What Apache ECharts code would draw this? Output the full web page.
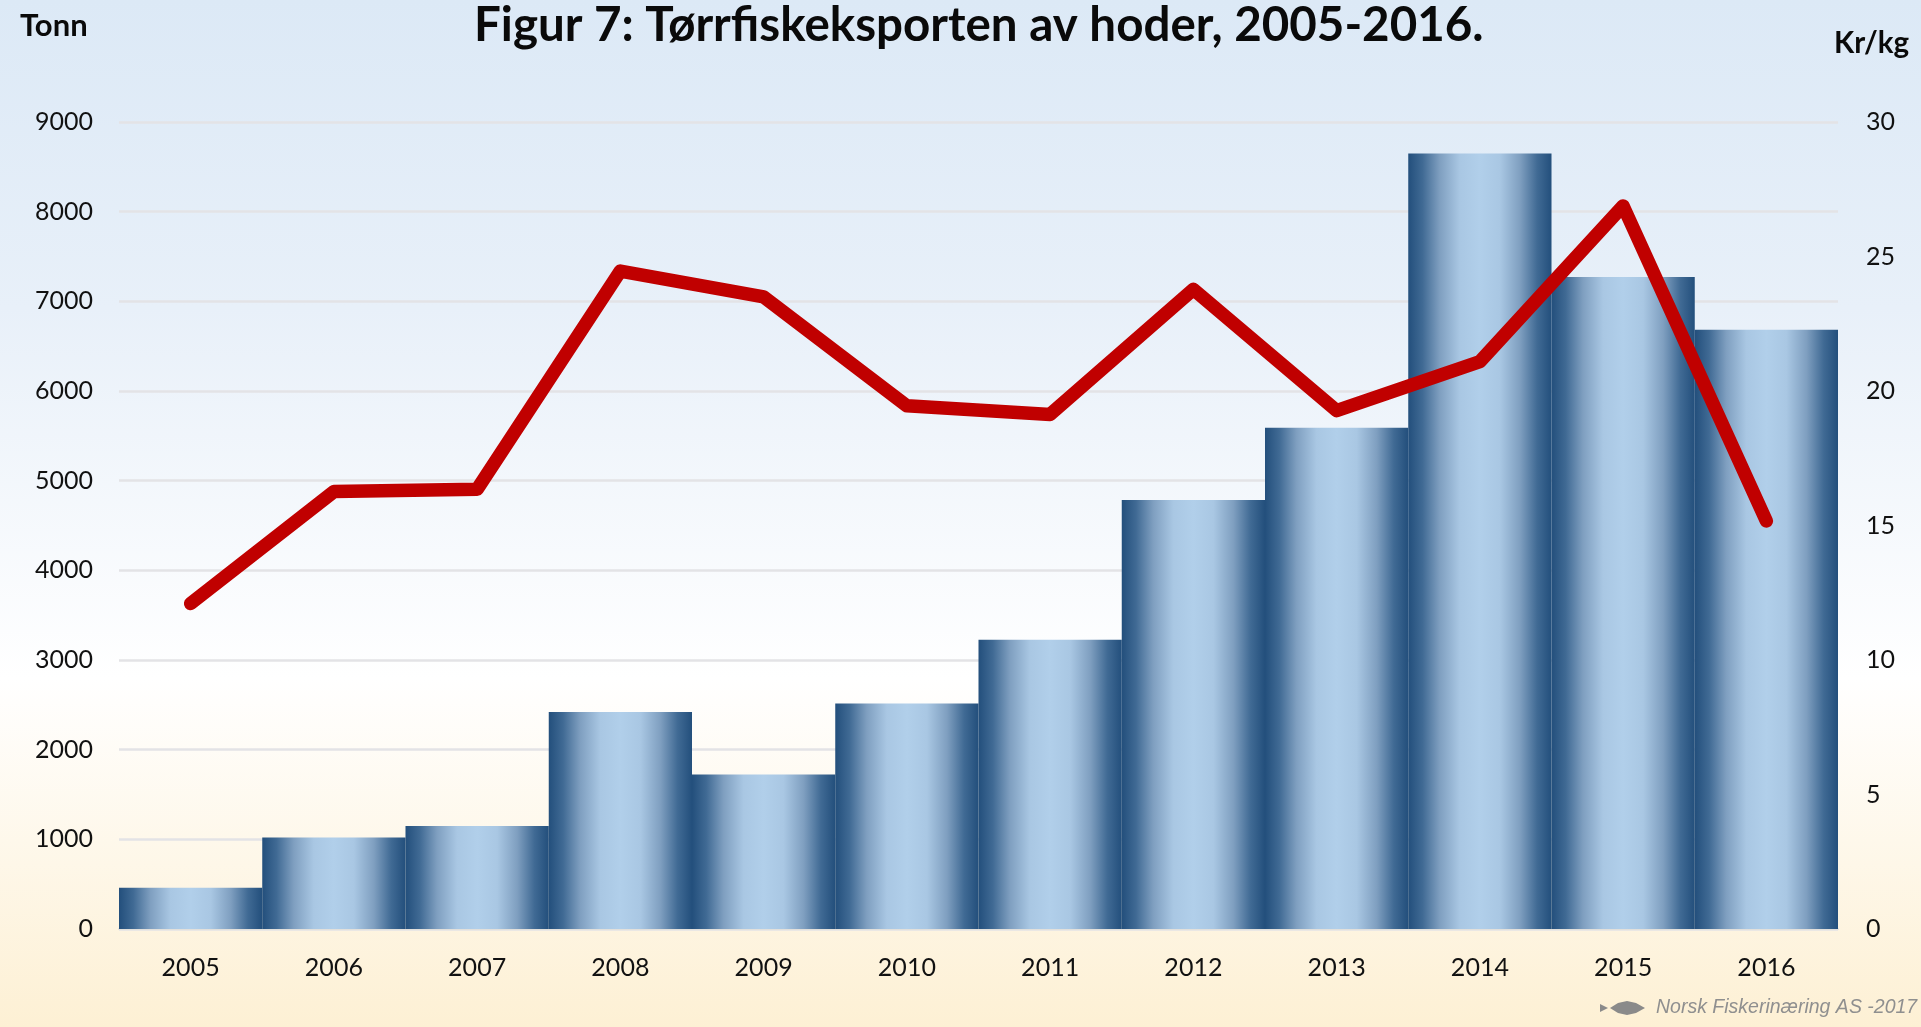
<!DOCTYPE html>
<html><head><meta charset="utf-8">
<style>html,body{margin:0;padding:0;width:100%;height:100%;overflow:hidden}#c{width:1921px;height:1027px}</style>
<script src="https://cdn.jsdelivr.net/npm/echarts@6/dist/echarts.min.js"></script>
</head><body><div id="c"></div>
<script>
const years = ['2005','2006','2007','2008','2009','2010','2011','2012','2013','2014','2015','2016'];
const tonnes = [460,1020,1150,2420,1722,2515,3225,4783,5590,8650,7272,6683];
const krPerKg = [12.1,16.26,16.35,24.46,23.5,19.45,19.13,23.78,19.27,21.09,26.88,15.17];
const titleText = 'Figur 7: Tørrfiskeksporten av hoder, 2005-2016.';
const leftUnit = 'Tonn';
const rightUnit = 'Kr/kg';
const credit = 'Norsk Fiskerinæring AS -2017';

const chart = echarts.init(document.getElementById('c'), null, {renderer:'canvas'});
const font = 'Lato, Carlito, sans-serif';
const barFill = {type:'linear',x:0,y:0,x2:1,y2:0,colorStops:[
  {offset:0,color:'#234f7c'},{offset:0.1,color:'#406a94'},{offset:0.22,color:'#7f9fc0'},{offset:0.36,color:'#a9c7e3'},
  {offset:0.5,color:'#b1cfea'},{offset:0.64,color:'#a9c7e3'},{offset:0.78,color:'#7f9fc0'},{offset:0.9,color:'#406a94'},{offset:1,color:'#234f7c'}]};
chart.setOption({
  animation:false,
  backgroundColor:{type:'linear',x:0,y:0,x2:0,y2:1,colorStops:[
    {offset:0,color:'#dce9f6'},{offset:0.3,color:'#e8f0f9'},{offset:0.66,color:'#ffffff'},{offset:1,color:'#fdf0d4'}]},
  title:[
    {text:titleText,left:469,top:-3,textStyle:{fontFamily:font,fontSize:47.5,fontWeight:'bold',color:'#0a0a0a'}},
    {text:leftUnit,left:15,top:5,textStyle:{fontFamily:font,fontSize:31,fontWeight:'bold',color:'#0a0a0a'}},
    {text:rightUnit,left:1829,top:23,textStyle:{fontFamily:font,fontSize:29.5,fontWeight:'bold',color:'#0a0a0a'}}
  ],
  grid:{left:119,right:83,top:122,bottom:98,containLabel:false},
  xAxis:{type:'category',data:years,boundaryGap:true,
    axisTick:{show:false},axisLine:{lineStyle:{color:'#e2e0dc',width:2}},
    axisLabel:{fontFamily:font,fontSize:25,color:'#111',margin:26}},
  yAxis:[
    {type:'value',min:0,max:9000,interval:1000,
     axisLine:{show:false},axisTick:{show:false},
     splitLine:{lineStyle:{color:'#e3e3e6',width:2.5}},
     axisLabel:{fontFamily:font,fontSize:25,color:'#111',margin:26,formatter:v=>String(v)}},
    {type:'value',min:0,max:30,interval:5,position:'right',
     axisLine:{show:false},axisTick:{show:false},splitLine:{show:false},
     axisLabel:{fontFamily:font,fontSize:25,color:'#111',margin:28,align:'left'}}
  ],
  series:[
    {type:'bar',yAxisIndex:0,data:tonnes,barWidth:'100%',barCategoryGap:'0%',itemStyle:{color:barFill},z:2},
    {type:'line',yAxisIndex:1,data:krPerKg,symbol:'none',z:3,
     lineStyle:{color:'#c00000',width:13.5,cap:'round',join:'round'}}
  ],
  graphic:[
    {type:'text',left:1656,top:998,style:{text:credit,fontFamily:'"Liberation Sans", Arial, sans-serif',fontStyle:'italic',fontSize:19.5,fill:'#8f8f8f'}},
    {type:'polygon',shape:{points:[[1600,1004],[1608,1008],[1600,1012]]},style:{fill:'#8a8a8a'}},
    {type:'polygon',shape:{points:[[1610,1008],[1618,1003],[1627,1001],[1636,1003],[1645,1008],[1636,1013],[1627,1015],[1618,1013]]},style:{fill:'#8a8a8a'}}
  ]
});
</script></body></html>
